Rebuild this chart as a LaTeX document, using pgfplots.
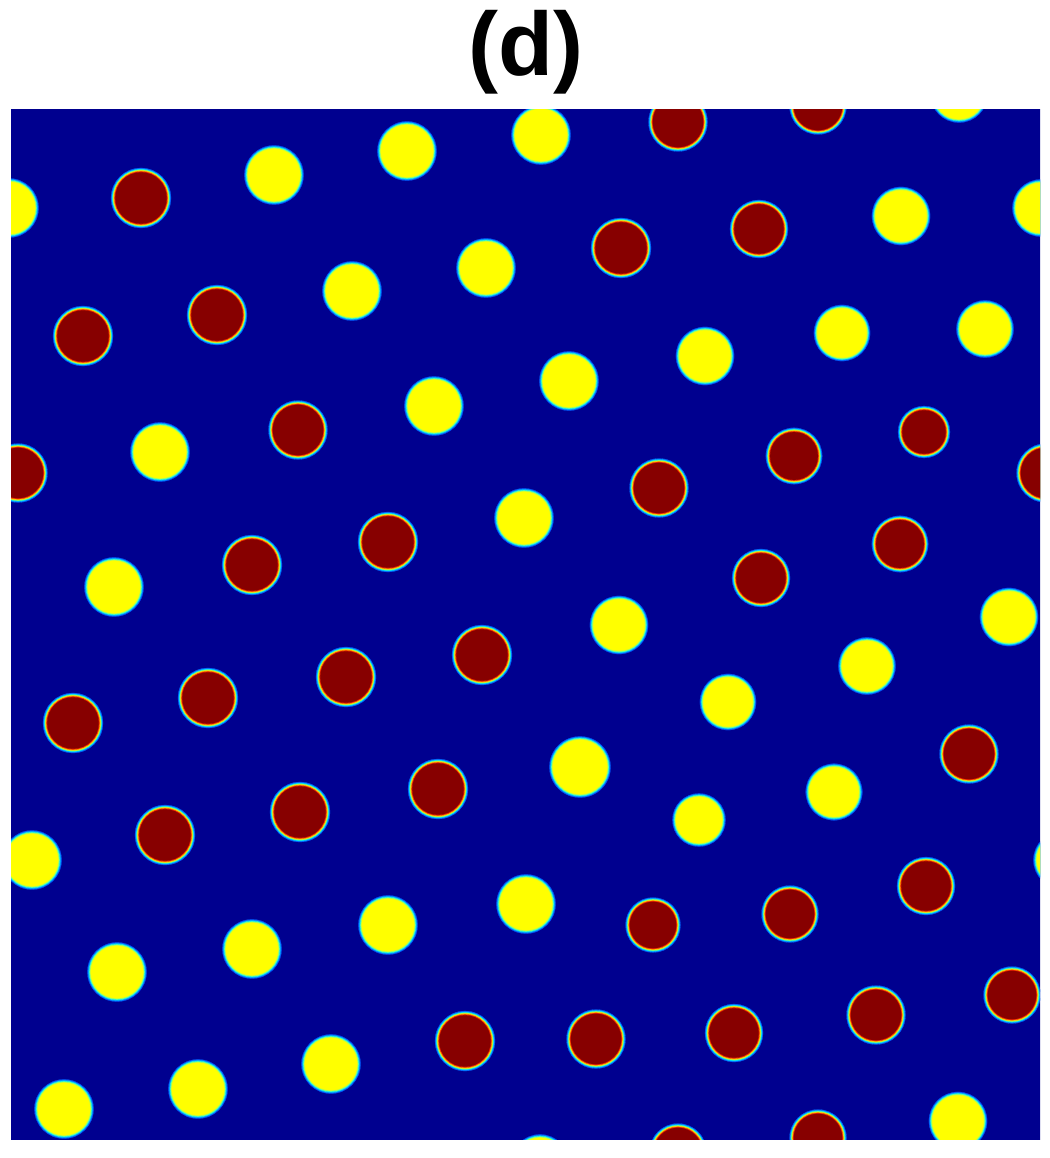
\documentclass[border=0pt]{standalone}
\usepackage{pgfplots}
\usepackage{pgfplotstable}
\usepackage{fontspec}
\setmainfont{Liberation Sans}
\pgfplotsset{compat=1.18}

\definecolor{bgblue}{RGB}{0,0,143}
\definecolor{ya}{RGB}{0,90,250}
\definecolor{yb}{RGB}{0,190,255}
\definecolor{yc}{RGB}{70,255,190}
\definecolor{yd}{RGB}{190,255,70}
\definecolor{ye}{RGB}{255,255,0}
\definecolor{ra}{RGB}{0,100,250}
\definecolor{rb}{RGB}{0,220,255}
\definecolor{rc}{RGB}{170,255,80}
\definecolor{rd}{RGB}{255,200,0}
\definecolor{re}{RGB}{240,40,0}
\definecolor{rf}{RGB}{135,0,0}

% grain centres (x, y) and radii r, in pixel units of the field
\pgfplotstableread{
x y r
959 94 28
541 135 29
407 151 29
274 175 29
9 208 29
1041 208 28
901 216 28.5
486 268 29
352 291 29
842 333 27.5
985 329 28
705 356 28.5
569 381 29
434 406 29
160 452 29
524 518 29
114 587 29
1009 617 28.5
619 625 28.5
867 666 28
728 702 27.5
580 767 30
834 792 27.7
699 820 26
32 860 29
1062 860 28
526 904 29
388 925 29
252 949 29
117 972 29
331 1064 29
198 1089 29
64 1109 29
958 1121 28.5
540 1163 28
}\yellowgrains

\pgfplotstableread{
x y r
678 122 29
818 106 28
141 198 29.5
759 229 28.5
621 248 29.5
217 315 29.5
83 336 29.5
298 430 29
924 432 25.5
18 473 29
1046 473 29
794 456 27.7
659 488 29
388 542 29.5
252 565 29.5
900 544 27.7
761 578 28.5
482 655 29.5
346 677 29.5
208 698 29.5
73 723 29.5
969 754 29
438 789 29.5
300 812 29.5
165 835 29.5
926 886 28.5
790 914 28
653 925 27
1012 995 28
876 1015 29
734 1033 28.5
596 1039 29
465 1041 29.5
678 1152 28
818 1138 28
}\redgrains

\pgfplotsset{
  disc/.style 2 args={
    only marks, scatter, mark=*,
    mark options={line width=0.05pt},
    scatter/use mapped color={draw=#1, fill=#1},
    visualization depends on={\thisrow{r} \as \rr},
    scatter/@pre marker code/.append style={/tikz/mark size={0.3*(\rr-#2)}},
  },
}

\begin{document}
\begin{tikzpicture}
\path[use as bounding box] (0,0) rectangle (315pt,347.4pt);
\begin{scope}
\clip (3.3pt,5.4pt) rectangle ++(308.7pt,309pt);
\begin{axis}[
  at={(-14.7pt,-12.6pt)}, anchor=south west,
  scale only axis, width=344.7pt, height=345pt,
  xmin=-49, xmax=1100, ymin=50, ymax=1200,
  y dir=reverse,
  ticks=none,
  clip=false,
  axis line style={draw=none},
  axis background/.style={fill=bgblue},
]
\addplot[disc={ya}{-0.6}] table[x=x,y=y] {\yellowgrains};
\addplot[disc={yb}{0.4}]  table[x=x,y=y] {\yellowgrains};
\addplot[disc={yc}{1.2}]  table[x=x,y=y] {\yellowgrains};
\addplot[disc={yd}{2.0}]  table[x=x,y=y] {\yellowgrains};
\addplot[disc={ye}{2.8}]  table[x=x,y=y] {\yellowgrains};

\addplot[disc={ra}{-0.5}] table[x=x,y=y] {\redgrains};
\addplot[disc={rb}{0.5}]  table[x=x,y=y] {\redgrains};
\addplot[disc={rc}{1.4}]  table[x=x,y=y] {\redgrains};
\addplot[disc={rd}{2.1}]  table[x=x,y=y] {\redgrains};
\addplot[disc={re}{2.9}]  table[x=x,y=y] {\redgrains};
\addplot[disc={rf}{3.8}]  table[x=x,y=y] {\redgrains};
\end{axis}
\end{scope}
\node[anchor=base, font=\fontsize{27}{27}\selectfont\bfseries]
  at (157.65pt,324.6pt) {(d)};
\end{tikzpicture}
\end{document}
